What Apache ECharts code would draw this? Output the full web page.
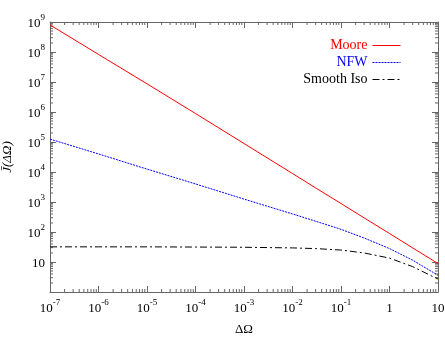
<!DOCTYPE html>
<html>
<head>
<meta charset="utf-8">
<script src="https://cdn.jsdelivr.net/npm/echarts@6/dist/echarts.min.js"></script>
<style>
  html, body { margin: 0; padding: 0; background: #fff; }
  #chart { width: 445px; height: 338px; }
</style>
</head>
<body>
<div id="chart"></div>
<script>
// solid angle (x) values where the curves were read
const omega = [1e-7, 1e-6, 1e-5, 1e-4, 1e-3, 1e-2, 3e-2, 1e-1, 0.3, 1, 3, 10];
// J-bar values per profile
const moore = [8e8, 8.3e7, 8.7e6, 8.9e5, 8.9e4, 8.9e3, 2.95e3, 890, 295, 89, 29.5, 8.9];
const nfw = [1.25e5, 4e4, 1.25e4, 4e3, 1.25e3, 400, 229, 123, 63, 28, 11.5, 3.6];
const smoothIso = [32, 32, 32, 31.5, 31, 29.5, 28, 25, 20, 13.5, 7, 2.7];
const seriesNames = ['Moore', 'NFW', 'Smooth Iso'];

// minor tick positions (2..9 in each decade)
const xMinor = [];
for (let e = -7; e < 1; e++) for (let m = 2; m <= 9; m++) xMinor.push(m * Math.pow(10, e));
const yMinor = [];
for (let e = 0; e < 9; e++) for (let m = 2; m <= 9; m++) yMinor.push(m * Math.pow(10, e));

function powLabel(v, showOne) {
  const e = Math.round(Math.log10(v));
  if (e === 0) return showOne ? '{b|1}' : '';
  if (e === 1) return '{b|10}';
  return '{b|10}{s|' + e + '}';
}

const font = 'Liberation Serif';
const axisColor = '#666';
const labelRich = {
  b: { fontFamily: font, fontSize: 13, color: '#000', lineHeight: 17, verticalAlign: 'bottom' },
  s: { fontFamily: font, fontSize: 9, color: '#000', lineHeight: 10, verticalAlign: 'top' }
};

function baseAxis(extra) {
  return Object.assign({
    type: 'log',
    logBase: 10,
    axisLine: { show: true, lineStyle: { color: axisColor, width: 1 } },
    axisTick: { show: true, inside: true, length: 6, lineStyle: { color: axisColor } },
    splitLine: { show: false },
    minorTick: { show: false },
    minorSplitLine: { show: false }
  }, extra);
}

const chart = echarts.init(document.getElementById('chart'));

const pairs = arr => omega.map((x, i) => [x, arr[i]]);

chart.setOption({
  animation: false,
  grid: { left: 50, right: 7, top: 22, bottom: 46, outerBoundsMode: 'none' },
  legend: {
    orient: 'vertical',
    right: 39,
    top: 33,
    align: 'right',
    itemWidth: 28,
    itemHeight: 10,
    itemGap: 2,
    itemStyle: { opacity: 0 },
    lineStyle: { width: 1 },
    textStyle: { fontFamily: font, fontSize: 14, lineHeight: 15 },
    data: [
      { name: 'Moore', textStyle: { color: '#ff0000' } },
      { name: 'NFW', textStyle: { color: '#0000ff' } },
      { name: 'Smooth Iso', textStyle: { color: '#000' } }
    ]
  },
  xAxis: [
    baseAxis({
      min: 1e-7, max: 10,
      name: 'ΔΩ',
      nameLocation: 'middle',
      nameGap: 31,
      nameTextStyle: { fontFamily: font, fontSize: 13, color: '#000' },
      axisLabel: {
        margin: 6,
        formatter: v => powLabel(v, true),
        rich: labelRich
      }
    }),
    baseAxis({ min: 1e-7, max: 10, position: 'top', axisLabel: { show: false } })
  ],
  yAxis: [
    baseAxis({
      min: 1, max: 1e9,
      name: 'J̄(ΔΩ)',
      nameLocation: 'middle',
      nameGap: 36,
      nameRotate: 90,
      nameTextStyle: { fontFamily: font, fontSize: 13, color: '#000', fontStyle: 'italic' },
      axisLabel: {
        margin: 5,
        formatter: v => powLabel(v, false),
        rich: labelRich
      }
    }),
    baseAxis({ min: 1, max: 1e9, position: 'right', axisLabel: { show: false } })
  ],
  series: [
    {
      name: seriesNames[0], type: 'line', symbol: 'none',
      lineStyle: { color: '#ff0000', width: 1 }, itemStyle: { color: '#ff0000' },
      data: pairs(moore)
    },
    {
      name: seriesNames[1], type: 'line', symbol: 'none',
      lineStyle: { color: '#0000ff', width: 1, type: [2, 1] }, itemStyle: { color: '#0000ff' },
      data: pairs(nfw)
    },
    {
      name: seriesNames[2], type: 'line', symbol: 'none',
      lineStyle: { color: '#000', width: 1, type: [7, 3, 2, 3] }, itemStyle: { color: '#000' },
      data: pairs(smoothIso)
    },
    {
      // minor ticks on bottom and top
      type: 'custom', silent: true, clip: false,
      data: xMinor.map(v => [v, 1]),
      renderItem: function (params, api) {
        const cs = params.coordSys;
        const px = api.coord([api.value(0), 1])[0];
        const st = { stroke: axisColor, lineWidth: 1 };
        return {
          type: 'group',
          children: [
            { type: 'line', shape: { x1: px, y1: cs.y + cs.height, x2: px, y2: cs.y + cs.height - 3 }, style: st },
            { type: 'line', shape: { x1: px, y1: cs.y, x2: px, y2: cs.y + 3 }, style: st }
          ]
        };
      }
    },
    {
      // minor ticks on left and right
      type: 'custom', silent: true, clip: false,
      data: yMinor.map(v => [1e-7, v]),
      renderItem: function (params, api) {
        const cs = params.coordSys;
        const py = api.coord([1e-7, api.value(1)])[1];
        const st = { stroke: axisColor, lineWidth: 1 };
        return {
          type: 'group',
          children: [
            { type: 'line', shape: { x1: cs.x, y1: py, x2: cs.x + 3, y2: py }, style: st },
            { type: 'line', shape: { x1: cs.x + cs.width, y1: py, x2: cs.x + cs.width - 3, y2: py }, style: st }
          ]
        };
      }
    }
  ]
});
</script>
</body>
</html>
